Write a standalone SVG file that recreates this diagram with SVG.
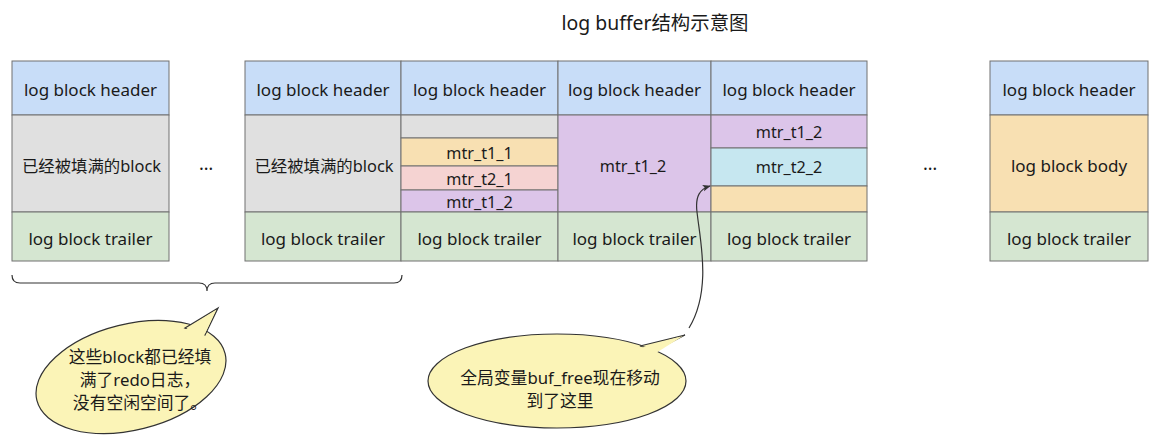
<svg xmlns="http://www.w3.org/2000/svg" width="1158" height="436" viewBox="0 0 1158 436">
<defs>
<style>
.c{stroke:#707070;stroke-width:1}
.hd{fill:#c8ddf8}
.gy{fill:#e0e0e0}
.gr{fill:#d5e6d1}
.or{fill:#f8e0b2}
.pk{fill:#f5d3d2}
.pu{fill:#dcc5e9}
.bl{fill:#c6e7f0}
.t{font-family:"Noto Sans","Noto Sans CJK SC",sans-serif;font-size:17px;fill:#1a1a1a;text-anchor:middle;dominant-baseline:central}
.m{font-size:16.2px}
.bub{fill:#fbf4b7;stroke:#333;stroke-width:1.2}
.bubf{fill:#fbf4b7;stroke:none}
.bt{font-family:"Noto Sans","Noto Sans CJK SC",sans-serif;font-size:16.8px;fill:#1a1a1a;text-anchor:middle;dominant-baseline:central}
</style>
<marker id="ah" viewBox="0 0 10 10" refX="9" refY="5" markerWidth="8" markerHeight="8" orient="auto" markerUnits="userSpaceOnUse">
<path d="M0,1 L10,5 L0,9 L2,5 Z" fill="#333"/>
</marker>
</defs>
<rect width="1158" height="436" fill="#fff"/>
<text class="bt" x="655" y="22" style="font-size:19.4px">log buffer结构示意图</text>

<g id="block1">
<rect class="c hd" x="12" y="61" width="157" height="54"/>
<rect class="c gy" x="12" y="115" width="157" height="97"/>
<rect class="c gr" x="12" y="212" width="157" height="49"/>
<text class="t" x="90.5" y="89">log block header</text>
<text class="t" x="91.5" y="165" style="font-size:16.4px">已经被填满的block</text>
<text class="t" x="90.5" y="238">log block trailer</text>
</g>

<g id="dots1"><text class="t" x="206" y="163" style="font-size:18px">…</text></g>

<g id="block2">
<rect class="c hd" x="245" y="61" width="156" height="54"/>
<rect class="c gy" x="245" y="115" width="156" height="97"/>
<rect class="c gr" x="245" y="212" width="156" height="49"/>
<text class="t" x="323" y="89">log block header</text>
<text class="t" x="324" y="165" style="font-size:16.4px">已经被填满的block</text>
<text class="t" x="323" y="238">log block trailer</text>
</g>

<g id="block3">
<rect class="c hd" x="401" y="61" width="157" height="54"/>
<rect class="c gy" x="401" y="115" width="157" height="23"/>
<rect class="c or" x="401" y="138" width="157" height="28"/>
<rect class="c pk" x="401" y="166" width="157" height="24"/>
<rect class="c pu" x="401" y="190" width="157" height="22"/>
<rect class="c gr" x="401" y="212" width="157" height="49"/>
<text class="t" x="479.5" y="89">log block header</text>
<text class="t m" x="479.5" y="153">mtr_t1_1</text>
<text class="t m" x="479.5" y="179">mtr_t2_1</text>
<text class="t m" x="479.5" y="202">mtr_t1_2</text>
<text class="t" x="479.5" y="238">log block trailer</text>
</g>

<g id="block4">
<rect class="c hd" x="558" y="61" width="153" height="54"/>
<rect class="c pu" x="558" y="115" width="153" height="97"/>
<rect class="c gr" x="558" y="212" width="153" height="49"/>
<text class="t" x="634.5" y="89">log block header</text>
<text class="t m" x="633" y="166">mtr_t1_2</text>
<text class="t" x="634.5" y="238">log block trailer</text>
</g>

<g id="block5">
<rect class="c hd" x="711" y="61" width="156" height="54"/>
<rect class="c pu" x="711" y="115" width="156" height="33"/>
<rect class="c bl" x="711" y="148" width="156" height="38"/>
<rect class="c or" x="711" y="186" width="156" height="26"/>
<rect class="c gr" x="711" y="212" width="156" height="49"/>
<text class="t" x="789" y="89">log block header</text>
<text class="t m" x="789" y="132">mtr_t1_2</text>
<text class="t m" x="789" y="167">mtr_t2_2</text>
<text class="t" x="789" y="238">log block trailer</text>
</g>

<g id="dots2"><text class="t" x="930" y="163" style="font-size:18px">…</text></g>

<g id="block6">
<rect class="c hd" x="990" y="61" width="158" height="54"/>
<rect class="c or" x="990" y="115" width="158" height="97"/>
<rect class="c gr" x="990" y="212" width="158" height="49"/>
<text class="t" x="1069" y="89">log block header</text>
<text class="t" x="1069" y="165">log block body</text>
<text class="t" x="1069" y="238">log block trailer</text>
</g>

<g id="connectors">
<path d="M12,275 Q12,283 20,283 L199,283 Q207,283 207,291 Q207,283 215,283 L394,283 Q402,283 402,275" fill="none" stroke="#333" stroke-width="1.2"/>
<path d="M689,328 C712,290 700,240 697,212 C695,196 700,189 710,186" fill="none" stroke="#333" stroke-width="1.2" marker-end="url(#ah)"/>
</g>

<g id="callout1">
<ellipse class="bub" cx="131" cy="377" rx="97" ry="53" transform="rotate(-14 131 377)"/>
<polygon class="bub" points="185,328 218,308 205,335"/>
<polygon class="bubf" points="183,331 216,310 203,338 190,340"/>
<text class="bt" x="140" y="356">这些block都已经填</text>
<text class="bt" x="140" y="379">满了redo日志，</text>
<text class="bt" x="140" y="402">没有空闲空间了。</text>
</g>

<g id="callout2">
<ellipse class="bub" cx="557" cy="381" rx="129" ry="47"/>
<polygon class="bub" points="640,346 685,335 656,350"/>
<polygon class="bubf" points="637,349 683,336 656,353 640,354"/>
<text class="bt" x="560" y="377">全局变量buf_free现在移动</text>
<text class="bt" x="560" y="400">到了这里</text>
</g>
</svg>
